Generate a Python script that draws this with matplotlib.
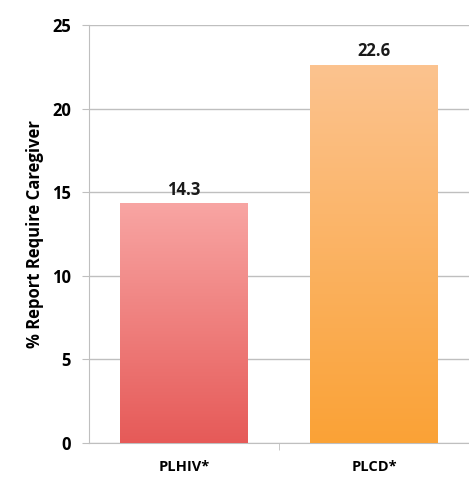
import matplotlib
matplotlib.use("Agg")
import matplotlib.pyplot as plt
import numpy as np
from matplotlib.colors import LinearSegmentedColormap

categories = ["PLHIV*", "PLCD*"]
values = [14.3, 22.6]
yticks = [0, 5, 10, 15, 20, 25]
top_colors = ["#F8A5A3", "#FCC38F"]
bottom_colors = ["#E65A58", "#FAA236"]

plt.rcParams['font.family'] = ['Open Sans', 'DejaVu Sans']
fig = plt.figure(figsize=(4.69, 4.8), dpi=100)
ax = fig.add_axes([0.19, 0.077, 0.81, 0.871])

x = np.arange(len(categories))
width = 0.67
bars = ax.bar(x, values, width=width, color='none', zorder=3)
grad = np.linspace(0, 1, 256).reshape(-1, 1)
for b, tc, bc, v in zip(bars, top_colors, bottom_colors, values):
    cmap = LinearSegmentedColormap.from_list('g', [bc, tc])
    x0 = b.get_x(); w = b.get_width()
    ax.imshow(grad, cmap=cmap, aspect='auto', origin='lower',
              extent=[x0, x0 + w, 0, v], zorder=3)
    ax.text(x0 + w / 2, v + 0.3, f"{v:.1f}", ha='center', va='bottom',
            fontsize=12, fontweight='bold', color='#1a1a1a', zorder=4)

ax.set_xlim(-0.5, len(categories) - 0.5)
ax.set_ylim(0, 25)
ax.set_yticks(yticks)
ax.set_yticklabels([str(t) for t in yticks], fontsize=12, fontweight='bold')
ax.set_xticks(x)
ax.set_xticklabels(categories, fontsize=10.5, fontweight='bold')
ax.set_ylabel("% Report Require Caregiver", fontsize=12, fontweight='bold', labelpad=6)
ax.yaxis.grid(True, color='#BFBFBF', linewidth=1, zorder=0)
ax.set_axisbelow(True)
for s in ['top', 'right']:
    ax.spines[s].set_visible(False)
for s in ['left', 'bottom']:
    ax.spines[s].set_color('#BFBFBF')
ax.tick_params(axis='y', length=5, color='#BFBFBF', pad=8)
ax.tick_params(axis='x', length=0, pad=12)
ax.set_xticks([0.5], minor=True)
ax.tick_params(axis='x', which='minor', length=5, color='#BFBFBF')

fig.savefig("out.png", dpi=100)
